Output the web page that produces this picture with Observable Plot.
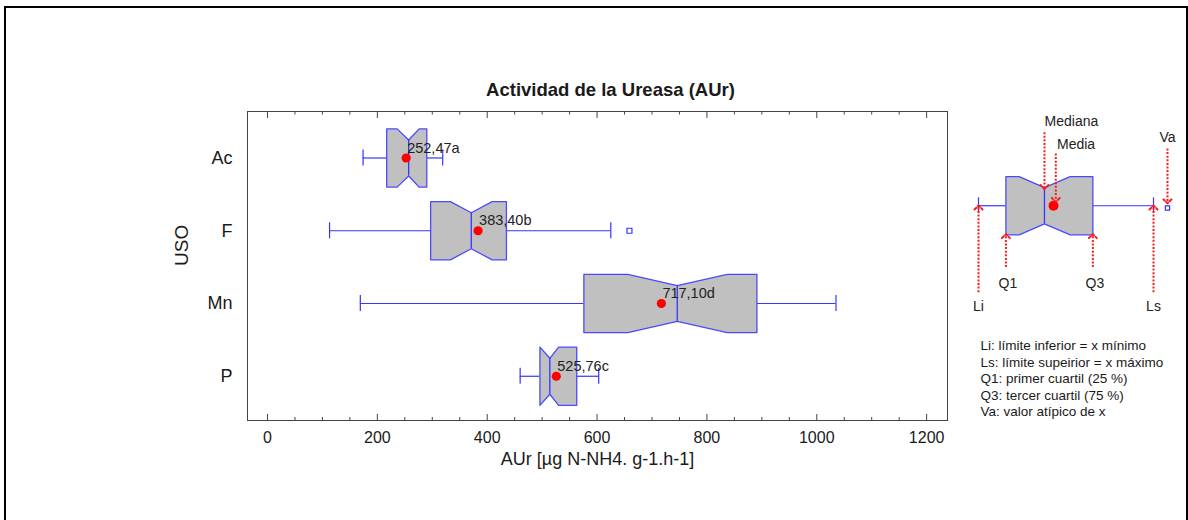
<!DOCTYPE html>
<html><head><meta charset="utf-8">
<script src="https://cdn.jsdelivr.net/npm/d3@7"></script>
<script src="https://cdn.jsdelivr.net/npm/@observablehq/plot@0.6"></script>
<style>
html,body{margin:0;padding:0;background:#fff;width:1188px;height:520px;overflow:hidden;}
#wrap{position:relative;width:1188px;height:520px;}
#border{position:absolute;left:4px;top:6px;width:1184px;height:600px;border:2px solid #000;box-sizing:border-box;}
#main{position:absolute;left:0;top:0;width:1188px;}
#legend{position:absolute;left:948px;top:100px;width:240px;}
</style></head><body>
<div id="wrap"><div id="border"></div><div id="main"></div><div id="legend"></div></div>
<script>
// ---- data ----
const categories = ["Ac", "F", "Mn", "P"];
const whiskerLow = [174, 113, 169, 460];
const quartile1 = [217, 297, 576, 496];
const notchLow = [236, 333, 656, 496];
const medians = [257, 371, 746, 514];
const notchHigh = [276, 409, 837, 530];
const quartile3 = [290, 435, 891, 563];
const whiskerHigh = [319, 625, 1035, 603];
const means = [252.47, 383.40, 717.10, 525.76];
const meanLetters = ["a", "b", "d", "c"];
const outlierCategory = ["F"];
const outlierValue = [659];
const xMajorTicks = [0, 200, 400, 600, 800, 1000, 1200];
const xMinorTicks = [50, 100, 150, 250, 300, 350, 450, 500, 550, 650, 700, 750, 850, 900, 950, 1050, 1100, 1150];

// schematic legend (illustrative values on a 0–100 scale)
const diagLi = 0, diagQ1 = 14.5, diagNotchLo = 21.5, diagMedian = 34.9, diagNotchHi = 48.5,
      diagQ3 = 60.5, diagLs = 92.6, diagVa = 100, diagMean = 39.7;
const legendLines = [
  "Li: límite inferior = x mínimo",
  "Ls: límite supeirior = x máximo",
  "Q1: primer cuartil (25 %)",
  "Q3: tercer cuartil (75 %)",
  "Va: valor atípico de x"
];

// ---- main chart ----
const FONT = "'Liberation Sans', Arial, Helvetica, sans-serif";
const BLUE = "#3535ff";
const BOXBLUE = "#4a4aff";
const idx = categories.map((_, i) => i);
const H = 0.40, N = 0.247, C = 0.11;
const boxPts = idx.flatMap(i => {
  const c = categories[i];
  return [
    [quartile1[i], i - H], [notchLow[i], i - H], [medians[i], i - N], [notchHigh[i], i - H], [quartile3[i], i - H],
    [quartile3[i], i + H], [notchHigh[i], i + H], [medians[i], i + N], [notchLow[i], i + H], [quartile1[i], i + H],
    [quartile1[i], i - H]
  ].map(([x, y]) => ({c, x, y}));
});

const main = Plot.plot({
  width: 1188, height: 520,
  marginLeft: 247, marginRight: 241, marginTop: 111, marginBottom: 100,
  style: {fontFamily: FONT, background: "transparent", color: "#1a1a1a"},
  x: {domain: [-36.4, 1238]},
  y: {domain: [-0.639, 3.608], reverse: true},
  marks: [
    Plot.frame({stroke: "#444"}),
    Plot.ruleX(xMajorTicks, {x: d => d, insetTop: 303, stroke: "#444"}),
    Plot.ruleX(xMajorTicks, {x: d => d, insetBottom: 302, stroke: "#444"}),
    Plot.ruleX(xMinorTicks, {x: d => d, insetTop: 306, stroke: "#444"}),
    Plot.ruleX(xMinorTicks, {x: d => d, insetBottom: 305.5, stroke: "#444"}),
    Plot.axisX({ticks: xMajorTicks, tickFormat: d => String(d), tickSize: 0, tickPadding: 11, fontSize: 16, label: null}),
    Plot.axisY({ticks: idx, tickFormat: i => categories[i], tickSize: 0, tickPadding: 15, fontSize: 18, label: null}),
    Plot.text(["Actividad de la Ureasa (AUr)"], {frameAnchor: "top", dx: 13, dy: -29, fontSize: 18.5, fontWeight: "bold"}),
    Plot.text(["AUr [µg N-NH4. g-1.h-1]"], {frameAnchor: "bottom", dy: 44, fontSize: 18}),
    Plot.text(["USO"], {frameAnchor: "left", dx: -65.6, rotate: -90, fontSize: 19}),
    // whiskers
    Plot.ruleY(idx, {y: i => i, x1: i => whiskerLow[i], x2: i => quartile1[i], stroke: BLUE, strokeWidth: 1.2}),
    Plot.ruleY(idx, {y: i => i, x1: i => quartile3[i], x2: i => whiskerHigh[i], stroke: BLUE, strokeWidth: 1.2}),
    Plot.ruleX(idx, {x: i => whiskerLow[i], y1: i => i - C, y2: i => i + C, stroke: BLUE, strokeWidth: 1.2}),
    Plot.ruleX(idx, {x: i => whiskerHigh[i], y1: i => i - C, y2: i => i + C, stroke: BLUE, strokeWidth: 1.2}),
    // notched boxes
    Plot.line(boxPts, {x: "x", y: "y", z: "c", fill: "#c0c0c0", stroke: BOXBLUE, strokeWidth: 1.3, curve: "linear"}),
    Plot.ruleX(idx, {x: i => medians[i], y1: i => i - N, y2: i => i + N, stroke: BLUE, strokeWidth: 1.3}),
    // outlier
    Plot.dot(outlierValue, {x: d => d, y: (d, j) => categories.indexOf(outlierCategory[j]), symbol: "square", r: 2.8, stroke: BLUE, fill: "white", strokeWidth: 1.2}),
    // means
    Plot.dot(idx, {x: i => means[i], y: i => i, r: 4.6, fill: "#ff0000", stroke: "none"}),
    Plot.text(idx, {x: i => means[i], y: i => i, text: i => means[i].toFixed(2).replace(".", ",") + meanLetters[i],
      textAnchor: "start", dx: 1, dy: -10, fontSize: 14.5, fill: "#222"})
  ]
});
document.getElementById("main").append(main);

// ---- schematic legend ----
const LH = 1, LN = 0.62, LC = 0.27;
const diagBox = [
  [diagQ1, -LH], [diagNotchLo, -LH], [diagMedian, -LN], [diagNotchHi, -LH], [diagQ3, -LH],
  [diagQ3, LH], [diagNotchHi, LH], [diagMedian, LN], [diagNotchLo, LH], [diagQ1, LH], [diagQ1, -LH]
].map(([x, y]) => ({x, y}));
const arrows = [
  {x: diagLi, y1: 2.96, y2: 0.06},
  {x: diagLs, y1: 2.96, y2: 0.06},
  {x: diagQ1, y1: 2.1, y2: LH + 0.04},
  {x: diagQ3, y1: 2.1, y2: LH + 0.04},
  {x: diagMedian, y1: -2.52, y2: -LN - 0.02},
  {x: diagMean + 1.2, y1: -1.79, y2: -0.2},
  {x: diagVa, y1: -1.96, y2: -0.15}
];
const RED = "#ff1a1a";

const legend = Plot.plot({
  width: 240, height: 330,
  marginLeft: 30, marginRight: 21, marginTop: 0, marginBottom: 0,
  style: {fontFamily: FONT, background: "transparent", color: "#1a1a1a"},
  x: {domain: [0, 100], axis: null},
  y: {domain: [-3.603, 7.695], reverse: true, axis: null},
  marks: [
    Plot.ruleY([0], {x1: diagLi, x2: diagQ1, stroke: BLUE, strokeWidth: 1.2}),
    Plot.ruleY([0], {x1: diagQ3, x2: diagLs, stroke: BLUE, strokeWidth: 1.2}),
    Plot.ruleX([diagLi, diagLs], {x: d => d, y1: -LC, y2: LC, stroke: BLUE, strokeWidth: 1.2}),
    Plot.line(diagBox, {x: "x", y: "y", fill: "#c0c0c0", stroke: BOXBLUE, strokeWidth: 1.3}),
    Plot.ruleX([diagMedian], {x: d => d, y1: -LN, y2: LN, stroke: BLUE, strokeWidth: 1.3}),
    Plot.dot([diagMean], {x: d => d, y: 0, r: 5, fill: "#ff0000", stroke: "none"}),
    Plot.dot([diagVa], {x: d => d, y: 0.08, symbol: "square", r: 2.4, stroke: BLUE, fill: "white", strokeWidth: 1.2}),
    Plot.link(arrows, {x1: "x", x2: "x", y1: "y1", y2: "y2", stroke: RED, strokeWidth: 2, strokeDasharray: "2,1.6", markerEnd: "arrow"}),
    Plot.text(["Li", "Ls"], {x: d => d === "Li" ? diagLi : diagLs, y: 3.46, fontSize: 14, fill: "#222"}),
    Plot.text(["Q1", "Q3"], {x: d => d === "Q1" ? diagQ1 : diagQ3, y: 2.65, dx: 2, fontSize: 14, fill: "#222"}),
    Plot.text(["Mediana"], {x: diagMedian, y: -2.89, dx: 27, fontSize: 14, fill: "#222"}),
    Plot.text(["Media"], {x: diagMean, y: -2.09, dx: 22.5, fontSize: 14, fill: "#222"}),
    Plot.text(["Va"], {x: diagVa, y: -2.35, fontSize: 14, fill: "#222"}),
    Plot.text([legendLines.join("\n")], {frameAnchor: "top-left", dx: 2, dy: 238, lineAnchor: "top", textAnchor: "start", lineHeight: 1.22, fontSize: 13.5, fill: "#1a1a1a"})
  ]
});
document.getElementById("legend").append(legend);
</script>
</body></html>
